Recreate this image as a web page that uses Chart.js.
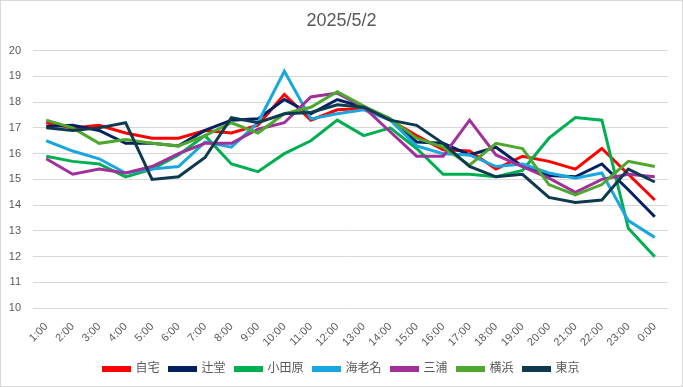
<!DOCTYPE html>
<html>
<head>
<meta charset="utf-8">
<script src="https://cdn.jsdelivr.net/npm/chart.js@4/dist/chart.umd.min.js"></script>
<style>
  body { margin: 0; background: #fff; }
  #wrap { width: 683px; height: 387px; position: relative; }
</style>
</head>
<body>
<div id="wrap"><canvas id="chart" width="683" height="387"></canvas></div>
<script>
const hours = ["1:00","2:00","3:00","4:00","5:00","6:00","7:00","8:00","9:00","10:00","11:00","12:00",
  "13:00","14:00","15:00","16:00","17:00","18:00","19:00","20:00","21:00","22:00","23:00","0:00"]

const jitaku   = [17.2,17.0,17.1,16.8,16.6,16.6,16.9,16.8,17.1,18.3,17.3,17.7,17.75,17.3,16.7,16.15,16.1,15.4,15.9,15.7,15.4,16.2,15.2,14.2]
const tsujido  = [17.05,17.1,16.9,16.4,16.4,16.3,16.9,17.3,17.35,18.1,17.55,18.1,17.8,17.35,16.45,16.4,15.95,16.25,15.5,15.15,15.1,15.6,14.6,13.55]
const odawara  = [15.9,15.7,15.6,15.1,15.4,15.95,16.7,15.6,15.3,16.0,16.5,17.3,16.7,17.0,16.2,15.2,15.2,15.1,15.35,16.6,17.4,17.3,13.1,12.0]
const ebina    = [16.5,16.1,15.8,15.25,15.4,15.5,16.45,16.25,17.2,19.2,17.35,17.55,17.7,17.3,16.3,16.0,15.95,15.5,15.6,15.25,15.05,15.25,13.4,12.75]
const miura    = [15.8,15.2,15.4,15.25,15.5,16.0,16.4,16.4,16.95,17.2,18.2,18.35,17.8,16.85,15.9,15.9,17.3,15.95,15.5,15.05,14.5,15.0,15.2,15.1]
const yokohama = [17.3,17.0,16.4,16.55,16.4,16.3,16.7,17.2,16.8,17.55,17.8,18.4,17.85,17.35,16.6,16.25,15.55,16.4,16.2,14.8,14.4,14.8,15.7,15.5]
const tokyo    = [17.0,16.9,17.0,17.2,15.0,15.1,15.85,17.4,17.2,17.55,17.6,17.9,17.8,17.3,17.1,16.4,15.5,15.1,15.2,14.3,14.1,14.2,15.4,14.9]

const seriesNames  = ["自宅","辻堂","小田原","海老名","三浦","横浜","東京"]
const seriesValues = [jitaku, tsujido, odawara, ebina, miura, yokohama, tokyo]
const seriesColors = ["#FF0000","#002060","#00B050","#1AA7E0","#A0309A","#4EA72E","#0E3A4F"]

const yTicks = { min: 10, max: 20, step: 1 }

const TEXT = "#595959"
const FONT = "'Liberation Sans', 'Noto Sans CJK JP', sans-serif"

const frame = {
  id: "frame",
  beforeDraw(chart){
    const ctx = chart.ctx
    ctx.save()
    ctx.fillStyle = "#fff"
    ctx.fillRect(0, 0, chart.width, chart.height)
    ctx.restore()
  },
  afterDraw(chart){
    const ctx = chart.ctx
    ctx.save()
    ctx.strokeStyle = "#d9d9d9"
    ctx.lineWidth = 1
    ctx.strokeRect(0.5, 0.5, chart.width - 1, chart.height - 1)
    ctx.restore()
  }
}

const datasets = seriesNames.map((name, i) => ({
  label: name,
  data: seriesValues[i],
  borderColor: seriesColors[i],
  backgroundColor: seriesColors[i],
  borderWidth: 3,
  pointRadius: 0,
  tension: 0,
  order: seriesNames.length - i
}))

new Chart(document.getElementById("chart"), {
  type: "line",
  data: { labels: hours, datasets },
  options: {
    responsive: false,
    animation: false,
    layout: { padding: { left: 0, right: 0, top: 8, bottom: 2 } },
    plugins: {
      title: {
        display: true,
        text: "2025/5/2",
        color: TEXT,
        font: { family: FONT, size: 18, weight: "normal" },
        padding: { top: 2, bottom: 19 }
      },
      legend: {
        position: "bottom",
        labels: {
          color: TEXT,
          font: { family: FONT, size: 12 },
          boxWidth: 26,
          boxHeight: 3,
          padding: 10,
          sort: (a, b) => a.datasetIndex - b.datasetIndex
        }
      },
      tooltip: { enabled: false }
    },
    scales: {
      x: {
        offset: true,
        grid: { display: false },
        border: { display: false },
        ticks: {
          color: TEXT,
          font: { family: FONT, size: 11 },
          minRotation: 45,
          maxRotation: 45,
          autoSkip: false,
          padding: 4
        }
      },
      y: {
        min: yTicks.min,
        max: yTicks.max,
        grid: { color: "#d9d9d9", lineWidth: 1, drawTicks: false },
        border: { display: false },
        ticks: {
          stepSize: yTicks.step,
          color: TEXT,
          font: { family: FONT, size: 11 },
          padding: 12
        },
        afterFit(scale){ scale.width = 33 }
      },
      // empty right-hand spacer so the plot ends where the reference does
      spacer: {
        type: "linear",
        position: "right",
        grid: { display: false },
        border: { display: false },
        ticks: { display: false },
        afterFit(scale){ scale.width = 15 }
      }
    }
  },
  plugins: [frame]
})
</script>
</body>
</html>
